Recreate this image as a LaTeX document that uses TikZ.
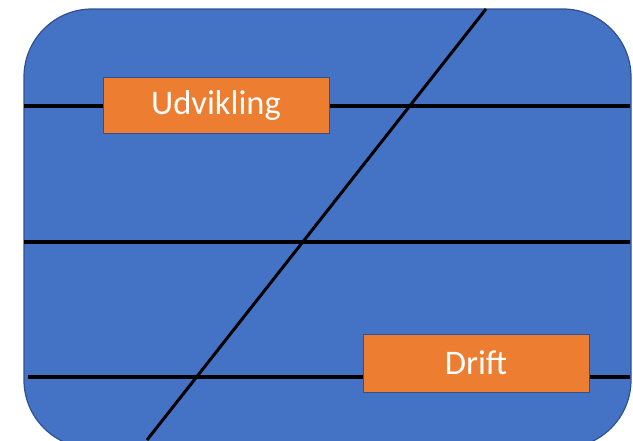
\documentclass[tikz,border=0pt]{standalone}
\usepackage{fontspec}
\setmainfont{Carlito}
\definecolor{panelblue}{HTML}{4472C4}
\definecolor{edgeblue}{HTML}{2F528F}
\definecolor{tagorange}{HTML}{ED7D31}
\begin{document}
\begin{tikzpicture}[x=1pt,y=-1pt,
  panel/.style={fill=panelblue,draw=edgeblue,line width=1.2pt,rounded corners=68pt},
  rule/.style={draw=black,line width=3.2pt},
  tag/.style={fill=tagorange,draw=edgeblue,line width=1pt,text=white,
    minimum width=226pt,minimum height=56pt,inner sep=0pt,
    font=\fontsize{34.5}{38}\selectfont}]
\useasboundingbox (0,0) rectangle (633,440);
\clip (0,0) rectangle (633,440);
% background panel
\path[panel] (24,9) rectangle (631,448);
% horizontal rules and diagonal
\coordinate (h1w) at (24,106);  \coordinate (h1e) at (630,106);
\coordinate (h2w) at (24,242);  \coordinate (h2e) at (630,242);
\coordinate (h3w) at (28,377);  \coordinate (h3e) at (630,377);
\coordinate (dtop) at (486,9);  \coordinate (dbot) at (147,440);
\draw[rule] (h1w) -- (h1e);
\draw[rule] (h2w) -- (h2e);
\draw[rule] (h3w) -- (h3e);
\draw[rule,line width=3pt] (dtop) -- (dbot);
% labels
\node[tag] (udv) at (216,105) {Udvikling};
\node[tag,minimum height=58pt] (drift) at (476,363) {Drift};
\end{tikzpicture}
\end{document}
